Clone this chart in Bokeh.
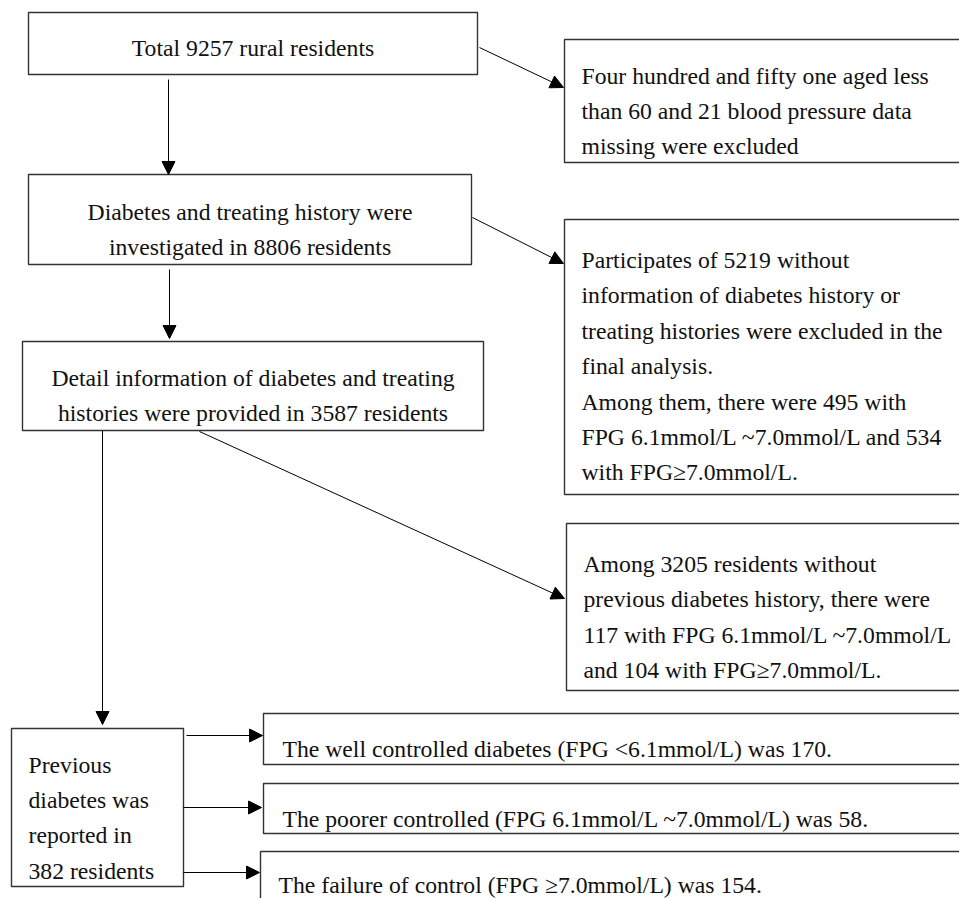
from bokeh.plotting import figure
from bokeh.models import Range1d, ColumnDataSource, Arrow, NormalHead
from bokeh.core.properties import value
from bokeh.embed import file_html
from bokeh.resources import INLINE

# ---- data (counts shown in the flow chart) ----
total_residents = 9257
excluded_young_words = "Four hundred and fifty one"   # 451 aged < 60
bp_missing = 21
investigated = 8806
no_history_info = 5219
nohist_ifg = 495
nohist_dm = 534
detailed = 3587
no_prev_dm = 3205
new_ifg = 117
new_dm = 104
prev_dm = 382
well_controlled = 170
poorer_controlled = 58
failed_control = 154

# ---- text of each box ----
txt_total = [f"Total {total_residents} rural residents"]
txt_invest = ["Diabetes and treating history were",
              f"investigated in {investigated} residents"]
txt_detail = ["Detail information of diabetes and treating",
              f"histories were provided in {detailed} residents"]
txt_excl1 = [f"{excluded_young_words} aged less",
             f"than 60 and {bp_missing} blood pressure data",
             "missing were excluded"]
txt_excl2 = [f"Participates of {no_history_info} without",
             "information of diabetes history or",
             "treating histories were excluded in the",
             "final analysis.",
             f"Among them, there were {nohist_ifg} with",
             f"FPG 6.1mmol/L ~7.0mmol/L and {nohist_dm}",
             "with FPG\u22657.0mmol/L."]
txt_new = [f"Among {no_prev_dm} residents without",
           "previous diabetes history, there were",
           f"{new_ifg} with FPG 6.1mmol/L ~7.0mmol/L",
           f"and {new_dm} with FPG\u22657.0mmol/L."]
txt_prev = ["Previous", "diabetes was", "reported in", f"{prev_dm} residents"]
txt_well = [f"The well controlled diabetes (FPG <6.1mmol/L) was {well_controlled}."]
txt_poor = [f"The poorer controlled (FPG 6.1mmol/L ~7.0mmol/L) was {poorer_controlled}."]
txt_fail = [f"The failure of control (FPG \u22657.0mmol/L) was {failed_control}."]

# ---- layout (pixel coordinates of the page, y downward) ----
boxes = [  # left, top, right, bottom
    (28, 12, 477, 74),
    (28, 174, 471, 264),
    (22, 341, 483, 430),
    (564, 39, 970, 162),
    (564, 219, 970, 494),
    (566, 523, 970, 690),
    (11, 728, 183, 886),
    (263, 713, 970, 764),
    (263, 783, 970, 833),
    (260, 851, 970, 910),
]
LS = 35.4
centered_blocks = [  # (lines, x_center, first baseline)
    (txt_total, 252.5, 47),
    (txt_invest, 249.5, 211),
    (txt_detail, 252.5, 377),
]
left_blocks = [  # (lines, x_left, first baseline)
    (txt_excl1, 581, 75),
    (txt_excl2, 581, 259.5),
    (txt_new, 583, 563.5),
    (txt_prev, 28, 764),
    (txt_well, 282, 748.5),
    (txt_poor, 282, 818.5),
    (txt_fail, 278, 884),
]
arrows = [  # x_start, y_start, x_end, y_end
    (168, 79, 168, 174),
    (479, 47, 563, 87),
    (169, 269, 169, 338),
    (472, 217, 563, 263),
    (102, 430, 102, 724),
    (199, 431, 564, 598),
    (186, 735, 262, 735),
    (183, 807, 261, 807),
    (183, 872, 259, 872),
]

p = figure(width=959, height=898, x_range=Range1d(0, 959), y_range=Range1d(898, 0),
           output_backend="svg", toolbar_location=None, min_border=0)
p.axis.visible = False
p.grid.visible = False
p.outline_line_color = None
p.background_fill_color = "white"
p.border_fill_color = "white"

bsrc = ColumnDataSource(dict(
    left=[b[0] for b in boxes], top=[b[1] for b in boxes],
    right=[b[2] for b in boxes], bottom=[b[3] for b in boxes]))
p.quad(left="left", right="right", top="top", bottom="bottom", source=bsrc,
       fill_color="white", line_color="#333333", line_width=1.4)

asrc = ColumnDataSource(dict(
    xs=[a[0] for a in arrows], ys=[a[1] for a in arrows],
    xe=[a[2] for a in arrows], ye=[a[3] for a in arrows]))
p.add_layout(Arrow(end=NormalHead(size=13, fill_color="black", line_color="black", line_width=1),
                   x_start="xs", y_start="ys", x_end="xe", y_end="ye", source=asrc,
                   line_color="black", line_width=1))

def block_source(blocks):
    xs, ys, ts = [], [], []
    for lines, x0, y0 in blocks:
        for i, t in enumerate(lines):
            xs.append(x0)
            ys.append(y0 + i * LS)
            ts.append(t)
    return ColumnDataSource(dict(x=xs, y=ys, text=ts))

font = value("Liberation Serif")
p.text(x="x", y="y", text="text", source=block_source(centered_blocks),
       text_font=font, text_font_size="23.7px", text_color="#111111",
       text_align="center", text_baseline="alphabetic")
p.text(x="x", y="y", text="text", source=block_source(left_blocks),
       text_font=font, text_font_size="23.7px", text_color="#111111",
       text_align="left", text_baseline="alphabetic")

open("out.html", "w").write(file_html(p, INLINE))
